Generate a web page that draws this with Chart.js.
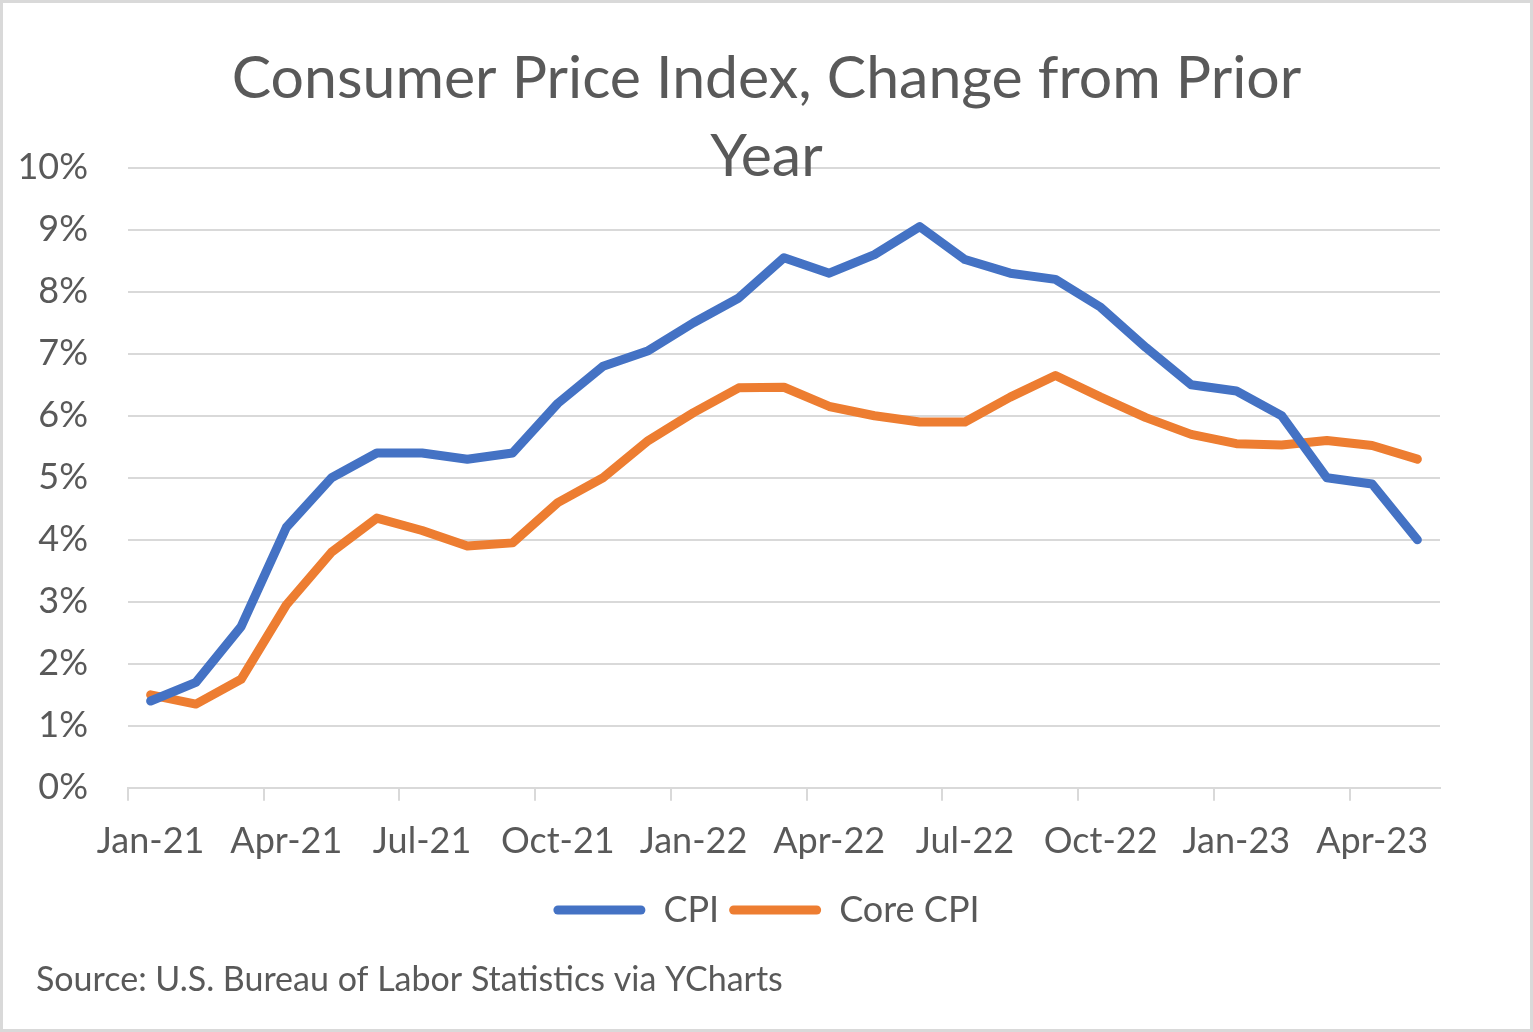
<!DOCTYPE html>
<html>
<head>
<meta charset="utf-8">
<script src="https://cdn.jsdelivr.net/npm/chart.js@4"></script>
<style>
  html, body { margin: 0; padding: 0; background: #ffffff; }
  #wrap { position: absolute; left: 0; top: 0; width: 1533px; height: 1032px; }
  canvas { display: block; }
</style>
</head>
<body>
<div id="wrap"><canvas id="c" width="1533" height="1032"></canvas></div>
<script>
const months = ['Jan-21','Feb-21','Mar-21','Apr-21','May-21','Jun-21','Jul-21','Aug-21','Sep-21','Oct-21','Nov-21','Dec-21',
                'Jan-22','Feb-22','Mar-22','Apr-22','May-22','Jun-22','Jul-22','Aug-22','Sep-22','Oct-22','Nov-22','Dec-22',
                'Jan-23','Feb-23','Mar-23','Apr-23','May-23'];
const cpi  = [1.4, 1.7, 2.6, 4.2, 5.0, 5.4, 5.4, 5.3, 5.4, 6.2, 6.8, 7.05,
              7.5, 7.9, 8.55, 8.3, 8.6, 9.05, 8.52, 8.3, 8.2, 7.75, 7.1, 6.5,
              6.4, 6.0, 5.0, 4.9, 4.0];
const coreCpi = [1.5, 1.35, 1.75, 2.95, 3.8, 4.35, 4.15, 3.9, 3.95, 4.6, 5.0, 5.6,
                 6.05, 6.45, 6.46, 6.15, 6.0, 5.9, 5.9, 6.3, 6.65, 6.3, 5.97, 5.7,
                 5.55, 5.53, 5.6, 5.52, 5.3];
const seriesNames = ['CPI', 'Core CPI'];
const titleLines = ['Consumer Price Index, Change from Prior', 'Year'];
const sourceText = 'Source: U.S. Bureau of Labor Statistics via YCharts';

const FONT = 'Lato, "Open Sans", sans-serif';
const TXT = '#595959';
const GRID = '#d9d9d9';

const frame = {
  id: 'frame',
  beforeDraw(chart) {
    const ctx = chart.ctx;
    ctx.save();
    ctx.fillStyle = '#ffffff';
    ctx.fillRect(0, 0, chart.width, chart.height);
    ctx.restore();
  },
  afterDraw(chart) {
    const ctx = chart.ctx;
    ctx.save();
    // source note
    ctx.fillStyle = TXT;
    ctx.font = '34px ' + FONT;
    ctx.textAlign = 'left';
    ctx.textBaseline = 'alphabetic';
    ctx.fillText(sourceText, 36, 991);
    // outer frame
    ctx.strokeStyle = GRID;
    ctx.lineWidth = 3;
    ctx.strokeRect(1.5, 1.5, chart.width - 3, chart.height - 3);
    ctx.restore();
  }
};

new Chart(document.getElementById('c'), {
  type: 'line',
  data: {
    labels: months,
    datasets: [
      { label: seriesNames[0], data: cpi, borderColor: '#4472C4', backgroundColor: '#4472C4',
        borderWidth: 9, pointRadius: 0, borderJoinStyle: 'round', borderCapStyle: 'round', tension: 0 },
      { label: seriesNames[1], data: coreCpi, borderColor: '#ED7D31', backgroundColor: '#ED7D31',
        borderWidth: 9, pointRadius: 0, borderJoinStyle: 'round', borderCapStyle: 'round', tension: 0 }
    ]
  },
  options: {
    responsive: false,
    animation: false,
    devicePixelRatio: 1,
    layout: { padding: { left: 8, right: 8, top: 0, bottom: 94 } },
    plugins: {
      tooltip: { enabled: false },
      title: {
        display: true,
        text: titleLines,
        color: TXT,
        font: { family: FONT, size: 59, weight: 'normal', lineHeight: 1.32 },
        padding: { top: 40, bottom: -28 }
      },
      legend: {
        position: 'bottom',
        labels: {
          color: TXT,
          font: { family: FONT, size: 36, weight: 'normal' },
          boxWidth: 92,
          boxHeight: 9,
          useBorderRadius: true,
          borderRadius: 4.5,
          padding: 10,
          generateLabels: (chart) => Chart.defaults.plugins.legend.labels.generateLabels(chart)
            .map((it) => Object.assign(it, { lineWidth: 0 }))
        }
      }
    },
    scales: {
      x: {
        type: 'category',
        offset: true,
        grid: {
          display: true,
          offset: true,
          drawOnChartArea: false,
          drawTicks: true,
          tickLength: 13,
          lineWidth: 2,
          color: (ctx) => (ctx.index % 3 === 0 ? GRID : 'rgba(0,0,0,0)')
        },
        border: { display: true, color: GRID, width: 2 },
        ticks: {
          autoSkip: false,
          maxRotation: 0,
          minRotation: 0,
          padding: 19,
          color: TXT,
          font: { family: FONT, size: 36 },
          callback: function (val, i) { return i % 3 === 0 ? months[i] : ''; }
        }
      },
      y: {
        position: 'left',
        min: 0,
        max: 10,
        afterFit: (s) => { s.width = 120; },
        grid: { color: GRID, lineWidth: 2, drawTicks: false },
        border: { display: false },
        ticks: {
          stepSize: 1,
          padding: 40,
          color: TXT,
          font: { family: FONT, size: 36 },
          callback: (v) => v + '%'
        }
      },
      yR: {
        position: 'right',
        display: true,
        min: 0,
        max: 10,
        afterFit: (s) => { s.width = 85; },
        grid: { display: false, drawTicks: false },
        border: { display: false },
        ticks: { display: false }
      }
    }
  },
  plugins: [frame]
});
</script>
</body>
</html>
